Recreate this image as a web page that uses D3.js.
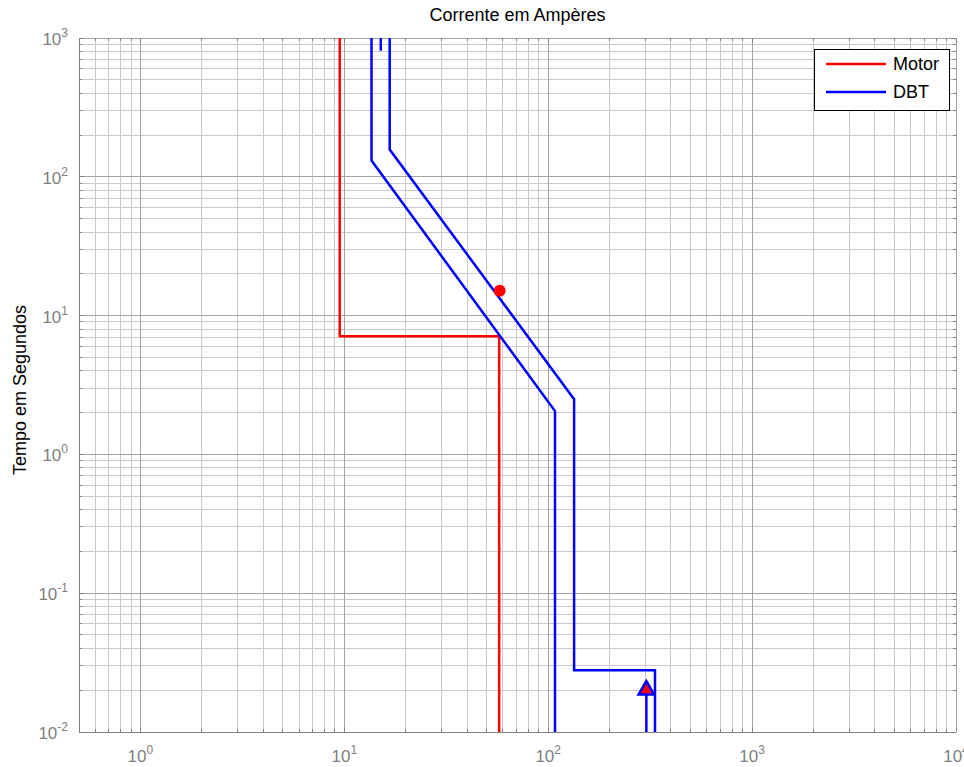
<!DOCTYPE html>
<html>
<head>
<meta charset="utf-8">
<script src="https://cdn.jsdelivr.net/npm/d3@7"></script>
<style>
  body { margin: 0; background: #fff; }
  text { font-family: "Liberation Sans", Arial, sans-serif; }
</style>
</head>
<body>
<div id="chart"></div>
<script>
// ---- data ----
const motorX = [9.5, 9.5, 57.5, 57.5];
const motorY = [1000, 7.1, 7.1, 0.01];

const dbtLowX = [13.6, 13.6, 108, 108];
const dbtLowY = [1000, 131, 2.05, 0.01];

const dbtHighX = [16.7, 16.7, 134, 134, 334, 334];
const dbtHighY = [1000, 157, 2.5, 0.0278, 0.0278, 0.01];

const dbtStubX = [15.1, 15.1];
const dbtStubY = [1000, 810];

const dbtArrowX = [303, 303];
const dbtArrowY = [0.01, 0.0204];

const motorPoint = [57.8, 15.1];
const dbtPoint = [303, 0.0204];

const xDecades = [0, 1, 2, 3, 4];
const yDecades = [-2, -1, 0, 1, 2, 3];

const W = 964, H = 767;
const pLeft = 79, pRight = 956, pTop = 38, pBottom = 732;

const svg = d3.select("#chart").append("svg")
  .attr("width", W).attr("height", H);

svg.append("rect").attr("width", W).attr("height", H).attr("fill", "#fff");

const x = d3.scaleLog().domain([0.5, 1e4]).range([pLeft, pRight]);
const y = d3.scaleLog().domain([0.01, 1000]).range([pBottom, pTop]);

// minor / major tick values
const xMinor = [], yMinor = [];
for (let k = -1; k <= 3; k++)
  for (let m = 2; m <= 9; m++) {
    const v = m * Math.pow(10, k);
    if (v > 0.5 && v < 1e4) xMinor.push(v);
  }
for (let k = -2; k <= 2; k++)
  for (let m = 2; m <= 9; m++) yMinor.push(m * Math.pow(10, k));
const xMajor = xDecades.map(d => Math.pow(10, d));
const yMajor = yDecades.map(d => Math.pow(10, d));

//////////////////////// grid ////////////////////////
const grid = svg.append("g");
grid.selectAll(".xminor").data(xMinor).enter().append("line")
  .attr("x1", d => x(d)).attr("x2", d => x(d))
  .attr("y1", pTop).attr("y2", pBottom)
  .attr("stroke", "#cacaca").attr("shape-rendering", "crispEdges");
grid.selectAll(".yminor").data(yMinor).enter().append("line")
  .attr("y1", d => y(d)).attr("y2", d => y(d))
  .attr("x1", pLeft).attr("x2", pRight)
  .attr("stroke", "#cacaca").attr("shape-rendering", "crispEdges");
grid.selectAll(".xmajor").data(xMajor).enter().append("line")
  .attr("x1", d => x(d)).attr("x2", d => x(d))
  .attr("y1", pTop).attr("y2", pBottom)
  .attr("stroke", "#a4a4a4").attr("shape-rendering", "crispEdges");
grid.selectAll(".ymajor").data(yMajor).enter().append("line")
  .attr("y1", d => y(d)).attr("y2", d => y(d))
  .attr("x1", pLeft).attr("x2", pRight)
  .attr("stroke", "#a4a4a4").attr("shape-rendering", "crispEdges");

//////////////////////// ticks ////////////////////////
const ticks = svg.append("g").attr("stroke", "#808080").attr("shape-rendering", "crispEdges");
const xt = xMajor.map(v => ({ v, len: 5 })).concat(xMinor.map(v => ({ v, len: 3 })));
const yt = yMajor.map(v => ({ v, len: 5 })).concat(yMinor.map(v => ({ v, len: 3 })));
xt.forEach(t => {
  ticks.append("line").attr("x1", x(t.v)).attr("x2", x(t.v)).attr("y1", pBottom).attr("y2", pBottom - t.len);
  ticks.append("line").attr("x1", x(t.v)).attr("x2", x(t.v)).attr("y1", pTop).attr("y2", pTop + t.len);
});
yt.forEach(t => {
  ticks.append("line").attr("y1", y(t.v)).attr("y2", y(t.v)).attr("x1", pLeft).attr("x2", pLeft + t.len);
  ticks.append("line").attr("y1", y(t.v)).attr("y2", y(t.v)).attr("x1", pRight).attr("x2", pRight - t.len);
});

// axis lines
svg.append("line").attr("x1", pLeft).attr("x2", pLeft).attr("y1", pTop).attr("y2", pBottom)
  .attr("stroke", "#808080").attr("shape-rendering", "crispEdges");
svg.append("line").attr("x1", pLeft).attr("x2", pRight).attr("y1", pBottom).attr("y2", pBottom)
  .attr("stroke", "#808080").attr("shape-rendering", "crispEdges");

//////////////////////// tick labels ////////////////////////
const xl = svg.selectAll(".xlab").data(xDecades).enter().append("text")
  .attr("x", d => x(Math.pow(10, d)))
  .attr("y", 762)
  .attr("text-anchor", "middle")
  .attr("fill", "#808080")
  .style("font-size", "17px");
xl.append("tspan").text("10");
xl.append("tspan").attr("dy", -8).style("font-size", "12px").text(d => d);

const yl = svg.selectAll(".ylab").data(yDecades).enter().append("text")
  .attr("x", 68)
  .attr("y", d => y(Math.pow(10, d)) + 7)
  .attr("text-anchor", "end")
  .attr("fill", "#808080")
  .style("font-size", "17px");
yl.append("tspan").text("10");
yl.append("tspan").attr("dy", -8).style("font-size", "12px").text(d => d);

//////////////////////// titles ////////////////////////
svg.append("text").attr("x", (pLeft + pRight) / 2).attr("y", 21)
  .attr("text-anchor", "middle").style("font-size", "18px")
  .text("Corrente em Ampères");

svg.append("text")
  .attr("transform", "translate(26,390) rotate(-90)")
  .attr("text-anchor", "middle").style("font-size", "18px")
  .text("Tempo em Segundos");

//////////////////////// curves ////////////////////////
svg.append("clipPath").attr("id", "clip").append("rect")
  .attr("x", pLeft).attr("y", pTop).attr("width", pRight - pLeft).attr("height", pBottom - pTop);
const plot = svg.append("g").attr("clip-path", "url(#clip)");

const line = d3.line().x(d => x(d[0])).y(d => y(d[1]));
const zip = (xs, ys) => xs.map((v, i) => [v, ys[i]]);

const series = [
  { pts: zip(motorX, motorY), color: "#ff0000" },
  { pts: zip(dbtLowX, dbtLowY), color: "#0000ff" },
  { pts: zip(dbtHighX, dbtHighY), color: "#0000ff" },
  { pts: zip(dbtStubX, dbtStubY), color: "#0000ff" },
  { pts: zip(dbtArrowX, dbtArrowY), color: "#0000ff" }
];
plot.selectAll(".curve").data(series).enter().append("path")
  .attr("d", d => line(d.pts))
  .attr("fill", "none")
  .attr("stroke", d => d.color)
  .attr("stroke-width", 2.5);

plot.append("circle")
  .attr("cx", x(motorPoint[0])).attr("cy", y(motorPoint[1]))
  .attr("r", 6).attr("fill", "#ff0000");

plot.append("path")
  .attr("d", d3.symbol(d3.symbolTriangle, 105)())
  .attr("transform", "translate(" + x(dbtPoint[0]) + "," + (y(dbtPoint[1]) + 1) + ")")
  .attr("fill", "#ff0000").attr("stroke", "#0000ff").attr("stroke-width", 2.5);

//////////////////////// legend ////////////////////////
const lg = svg.append("g");
lg.append("rect").attr("x", 814.5).attr("y", 49.5).attr("width", 135).attr("height", 61)
  .attr("fill", "#fff").attr("stroke", "#000");
const legendItems = [{ name: "Motor", color: "#ff0000" }, { name: "DBT", color: "#0000ff" }];
legendItems.forEach((it, i) => {
  const ly = 64 + i * 28;
  lg.append("line").attr("x1", 826).attr("x2", 886).attr("y1", ly).attr("y2", ly)
    .attr("stroke", it.color).attr("stroke-width", 2.5);
  lg.append("text").attr("x", 893).attr("y", ly + 6).style("font-size", "18px").text(it.name);
});
</script>
</body>
</html>
